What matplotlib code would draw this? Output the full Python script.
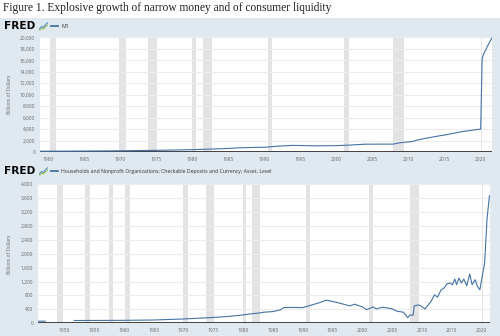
import matplotlib
matplotlib.use('Agg')
import matplotlib.pyplot as plt
import matplotlib.ticker as mticker
import numpy as np
from matplotlib.lines import Line2D
from matplotlib.patches import Rectangle

# ---- data ----
m1_years = [1959.0, 1962, 1965, 1968, 1970, 1973, 1975, 1978, 1980, 1983, 1985, 1987,
            1990, 1992, 1994, 1995, 1997, 2000, 2002, 2004, 2006, 2008.0, 2008.8, 2009.5,
            2010.5, 2011.5, 2012.5, 2013.5, 2014.5, 2015.5, 2016.5, 2017.5, 2018.5,
            2019.5, 2020.1, 2020.3, 2020.5, 2020.8, 2021.1, 2021.4, 2021.67]
m1_vals = [139, 147, 168, 190, 214, 264, 288, 357, 408, 523, 620, 750,
           825, 1025, 1150, 1130, 1075, 1105, 1210, 1360, 1370, 1380, 1600, 1700,
           1800, 2150, 2400, 2620, 2850, 3050, 3300, 3550, 3720,
           3900, 4000, 16200, 17100, 17800, 18600, 19300, 19900]

hh_years = [1945.6, 1946.8, 1947.0, 1951.7, 1955, 1960, 1965, 1970, 1974.4, 1977, 1980,
            1981.2, 1982.8, 1983.4, 1985, 1986.2, 1986.8, 1988, 1990, 1991.2, 1992.9,
            1993.9, 1995, 1996.2, 1997.9, 1998.7, 1999.3, 2000, 2000.7, 2001.3, 2001.8,
            2002.3, 2003.4, 2004.2, 2005, 2005.8, 2006.9, 2007.6, 2008, 2008.5, 2008.7,
            2009.4, 2010, 2010.5, 2011.5, 2012.1, 2012.6, 2013.2, 2013.7, 2014.2, 2014.7,
            2015.1, 2015.5, 2015.8, 2016.2, 2016.6, 2017.0, 2017.5, 2018.0, 2018.4,
            2018.9, 2019.3, 2019.7, 2020.1, 2020.5, 2020.9, 2021.3]
hh_vals = [62, 60, np.nan, 80, 82, 85, 95, 124, 162, 190, 240,
           269, 298, 318, 337, 384, 451, 455, 451, 510, 597,
           665, 626, 578, 500, 549, 510, 471, 395, 430, 471,
           413, 462, 440, 413, 347, 318, 162, 240, 231, 500,
           529, 480, 413, 625, 818, 751, 962, 1011, 1136, 1156,
           1108, 1271, 1108, 1300, 1156, 1271, 1078, 1416, 1108,
           1252, 1059, 962, 1349, 1734, 2985, 3660]

recessions = [(1948.83, 1949.75), (1953.5, 1954.33), (1957.58, 1958.25), (1960.25, 1961.08),
              (1969.92, 1970.83), (1973.83, 1975.17), (1980.0, 1980.5), (1981.5, 1982.83),
              (1990.5, 1991.17), (2001.17, 2001.83), (2007.92, 2009.42), (2020.08, 2020.25)]

m1_label = 'M1'
hh_label = 'Households and Nonprofit Organizations; Checkable Deposits and Currency; Asset, Level'
title = 'Figure 1. Explosive growth of narrow money and of consumer liquidity'

BG = '#e1e9f0'
LINE = '#4572a7'
TXT = '#666666'
W, H = 500, 336

fig = plt.figure(figsize=(5, 3.36), dpi=100)
fig.patch.set_facecolor('white')
fig.patches.append(Rectangle((0, 0), 1, (H - 17.5) / H, transform=fig.transFigure,
                             facecolor=BG, edgecolor='none', zorder=-10))

fig.text(3 / W, 1 - 8 / H, title, family='Liberation Serif', fontsize=8.3,
         va='center', ha='left', color='#222222')


def px_axes(x0, y0, x1, y1):
    return fig.add_axes([x0 / W, (H - y1) / H, (x1 - x0) / W, (y1 - y0) / H])


def header(ycen, label):
    fig.text(4 / W, 1 - ycen / H, 'FRED', fontsize=7.6, fontweight='heavy',
             va='center', ha='left', color='black', family='DejaVu Sans')
    icon = px_axes(39, ycen - 4.5, 48, ycen + 4.5)
    icon.set_xlim(0, 1)
    icon.set_ylim(0, 1)
    icon.axis('off')
    icon.plot([0.05, 0.3, 0.5, 0.75, 0.95], [0.2, 0.45, 0.35, 0.7, 0.85], color='#5b8bc9', lw=0.8)
    icon.plot([0.05, 0.3, 0.5, 0.75, 0.95], [0.05, 0.25, 0.2, 0.45, 0.6], color='#8dbb5a', lw=0.8)
    fig.lines.append(Line2D([51 / W, 58 / W], [1 - ycen / H] * 2, transform=fig.transFigure,
                            color=LINE, lw=1.3))
    fig.text(61 / W, 1 - ycen / H, label, fontsize=3.7, family='Open Sans',
             va='center', ha='left', color='#333333')


def style_ax(ax, xlim, ylim, ystep, xticks):
    ax.set_facecolor('white')
    ax.set_xlim(*xlim)
    ax.set_ylim(*ylim)
    for s in ax.spines.values():
        s.set_visible(False)
    for a, b in recessions:
        ax.axvspan(a, b, color='#e3e3e3', lw=0, zorder=0)
    ax.yaxis.set_major_locator(mticker.MultipleLocator(ystep))
    ax.yaxis.set_major_formatter(mticker.FuncFormatter(lambda v, p: f'{int(v):,}'))
    ax.grid(axis='y', color='#ececec', lw=0.8, zorder=1)
    ax.set_axisbelow(True)
    ax.set_xticks(xticks)
    ax.set_xticklabels([str(t) for t in xticks])
    ax.tick_params(length=0, labelsize=3.5, colors=TXT, pad=3.5)
    for lab in ax.get_xticklabels() + ax.get_yticklabels():
        lab.set_family('Open Sans')
    ax.axhline(0, color='#333333', lw=1.3, zorder=3)


# ---- panel 1: M1 ----
header(26, m1_label)
ax1 = px_axes(40, 37.3, 492, 152)
style_ax(ax1, (1958.9, 2021.67), (0, 20000), 2000, list(range(1960, 2021, 5)))
ax1.plot(m1_years, m1_vals, color=LINE, lw=0.8, zorder=4)
fig.text(10 / W, 1 - 94 / H, 'Billions of Dollars', rotation=90, fontsize=3.5,
         family='Open Sans', color=TXT, va='center', ha='center')

# ---- panel 2: households checkable deposits ----
header(171, hh_label)
ax2 = px_axes(38, 184, 490, 323.3)
style_ax(ax2, (1945.6, 2021.4), (0, 4000), 400, list(range(1950, 2021, 5)))
ax2.plot(hh_years, hh_vals, color=LINE, lw=0.8, zorder=4)
fig.text(10 / W, 1 - 254 / H, 'Billions of Dollars', rotation=90, fontsize=3.5,
         family='Open Sans', color=TXT, va='center', ha='center')

plt.savefig('out.png', dpi=100)
